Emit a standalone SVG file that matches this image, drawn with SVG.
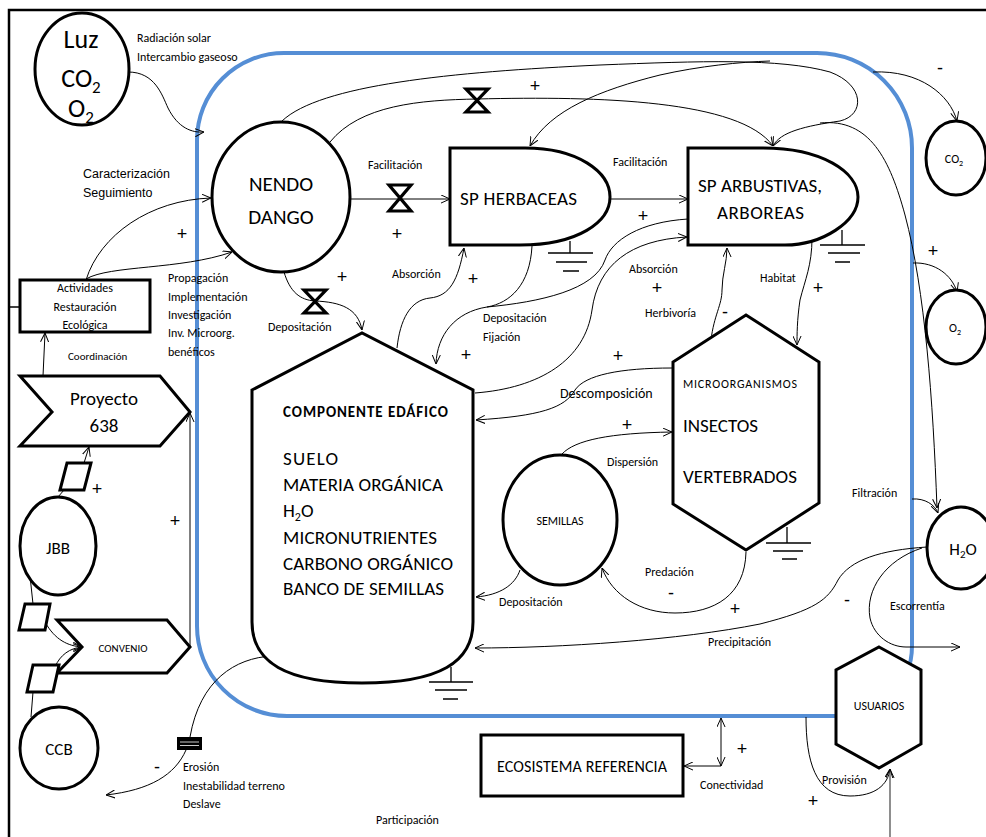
<svg xmlns="http://www.w3.org/2000/svg" width="986" height="837" viewBox="0 0 986 837">
<defs>
<marker id="a" viewBox="0 0 10 10" refX="10" refY="5" markerWidth="9" markerHeight="9" markerUnits="userSpaceOnUse" orient="auto-start-reverse"><path d="M0,0.5 L10,5 L0,9.5" fill="none" stroke="#000" stroke-width="1.1"/></marker>
<style>
.n{fill:#fff;stroke:#000;stroke-width:3}
.c{fill:none;stroke:#000;stroke-width:1}
.ca{fill:none;stroke:#000;stroke-width:1;marker-end:url(#a)}
.g{fill:none;stroke:#000;stroke-width:1.3}
.v{fill:none;stroke:#000;stroke-width:3.2;stroke-linejoin:miter}
text{font-family:Carlito,Lato,"Liberation Sans",sans-serif;fill:#000}
.s{font-size:12px}
.ar{font-family:"Liberation Sans",Arial,sans-serif;font-size:12.5px}
.p{font-family:"Liberation Sans",Arial,sans-serif;font-size:18px;text-anchor:middle}
.m{text-anchor:middle}
</style>
</defs>
<rect width="986" height="837" fill="#fff"/>
<path d="M9,837 V10 H986" fill="none" stroke="#000" stroke-width="2.5"/>
<path d="M9,307 H20" fill="none" stroke="#000" stroke-width="1.5"/>
<path d="M284,53 H817 A95,95 0 0 1 912,148 V646 A70,70 0 0 1 842,716 H287 A90,90 0 0 1 197,626 V140 A87,87 0 0 1 284,53 Z" fill="none" stroke="#558ED5" stroke-width="4"/>

<g id="connectors">
<path class="ca" d="M128,72 C155,72 162,95 168,108 C178,128 192,133 204,132"/>
<path class="ca" d="M86,280 C100,235 150,200 211,198"/>
<path class="ca" d="M86,279 C110,265 180,270 232,252"/>
<path class="ca" d="M43,376 L45,333"/>
<path class="ca" d="M190,647 V413"/>
<path class="c" d="M58,497 L64,490"/>
<path class="ca" d="M84,463 L89,447"/>
<path class="c" d="M30,576 L33,604"/>
<path class="ca" d="M45,622 C55,640 68,646 82,647"/>
<path class="ca" d="M55,667 C60,655 70,648 82,647"/>
<path class="c" d="M33,692 L31,717"/>
<path class="c" d="M272,656 C235,658 200,680 190,737"/>
<path class="ca" d="M186,750 C175,775 150,790 106,795"/>
<path class="ca" d="M350,199 H450"/>
<path class="ca" d="M610,199 H688"/>
<path class="ca" d="M282,121 C320,85 450,72 600,65 C700,61 780,58 830,72 C865,85 865,115 840,121 C805,126 780,132 773,146"/>
<path class="ca" d="M820,123 C870,118 890,160 905,215 C925,290 933,400 937,508"/>
<path class="ca" d="M330,142 C360,105 420,100 477,99 C600,96 740,100 773,146"/>
<path class="ca" d="M770,61 C740,62 700,66 660,75 C600,90 550,110 530,146"/>
<path class="ca" d="M873,72 C920,70 950,95 957,121"/>
<path class="ca" d="M913,263 C935,262 952,275 957,292"/>
<path class="ca" d="M912,499 C925,498 935,505 938,513"/>
<path class="ca" d="M284,272 C290,292 300,300 315,301 C340,302 358,308 362,330"/>
<path class="ca" d="M397,348 C400,320 410,300 430,298 C450,296 458,280 464,248"/>
<path class="ca" d="M532,246 C530,285 510,303 487,307 C455,312 437,335 436,364"/>
<path class="c" d="M688,219 C640,222 612,240 605,260 C595,290 540,302 487,307"/>
<path class="ca" d="M475,393 C540,388 585,360 592,310 C598,265 630,240 687,237"/>
<path class="ca" d="M711,340 C714,315 722,305 722,290 C722,275 727,262 727,248"/>
<path class="ca" d="M812,238 C812,265 805,280 800,300 C797,320 797,335 797,345"/>
<path class="ca" d="M672,368 C620,368 585,375 575,390 C565,408 540,416 476,420"/>
<path class="ca" d="M562,454 C575,440 610,433 672,432"/>
<path class="ca" d="M520,570 C515,585 500,595 476,597"/>
<path class="ca" d="M746,552 C745,595 715,613 675,613 C640,613 612,595 602,568"/>
<path class="ca" d="M927,547 C880,550 850,560 838,580 C828,600 815,610 760,624 C680,640 560,648 475,648"/>
<path class="ca" d="M922,548 C885,560 865,590 870,618 C874,636 890,647 906,647 L960,647"/>
<path class="ca" d="M806,717 C806,760 815,796 850,796 C875,796 888,785 890,769"/>
<path d="M890,837 V769" fill="none" stroke="#444" stroke-width="1.2" marker-end="url(#a)"/>
<path class="ca" d="M721,766 V718" marker-start="url(#a)"/>
<path class="ca" d="M721,766 H684"/>
<path class="v" d="M389,185 H411 L389,211 H411 Z"/>
<path class="v" d="M466,89 H488 L466,112 H488 Z"/>
<path class="v" d="M304,290 H326 L304,313 H326 Z"/>
<rect x="177" y="737" width="25" height="13" fill="#000"/>
<path d="M180,742 H199 M180,745.5 H199" stroke="#fff" stroke-width="0.8"/>
</g>

<g id="luz">
<ellipse class="n" cx="82" cy="69" rx="47" ry="56"/>
<text x="81" y="48" font-size="26" class="m">Luz</text>
<text x="81" y="87" font-size="26" class="m">CO<tspan font-size="17" dy="6">2</tspan></text>
<text x="81" y="117" font-size="26" class="m">O<tspan font-size="17" dy="6">2</tspan></text>
</g>
<g id="nendo">
<ellipse class="n" cx="281" cy="197" rx="69" ry="75"/>
<text x="281" y="191" font-size="21" class="m">NENDO</text>
<text x="281" y="224" font-size="21" class="m">DANGO</text>
</g>
<g id="herbaceas">
<path class="n" d="M450,148 H525 C578,148 610,172 610,197 C610,222 578,245 520,245 H450 Z"/>
<text x="460" y="205" font-size="19" textLength="117">SP HERBACEAS</text>
<path class="g" d="M570,241 V253 M548,253 H593 M556,262 H587 M563,271 H579"/>
</g>
<g id="arbustivas">
<path class="n" d="M688,148 H763 C822,148 858,172 858,197 C858,222 822,245 785,245 H688 Z"/>
<text x="698" y="192" font-size="19" textLength="124">SP ARBUSTIVAS,</text>
<text x="717" y="219" font-size="19" textLength="87">ARBOREAS</text>
<path class="g" d="M842,230 V245 M820,245 H865 M828,253 H860 M835,262 H850"/>
</g>
<g id="co2">
<ellipse class="n" cx="956" cy="158" rx="30" ry="37"/>
<text x="954" y="163" font-size="12" class="m">CO<tspan font-size="8" dy="3">2</tspan></text>
</g>
<g id="o2">
<ellipse class="n" cx="956" cy="327" rx="30" ry="37"/>
<text x="955" y="332" font-size="12" class="m">O<tspan font-size="8" dy="3">2</tspan></text>
</g>
<g id="h2o">
<ellipse class="n" cx="961" cy="548" rx="34" ry="41"/>
<text x="963" y="555" font-size="17" class="m">H<tspan font-size="11" dy="3">2</tspan><tspan dy="-3">O</tspan></text>
</g>
<g id="componente">
<path class="n" d="M252,390 L362,333 L473,390 V622 C473,662 440,683 362,683 C285,683 252,662 252,622 Z"/>
<text x="283" y="417" font-size="15" font-weight="bold" textLength="165">COMPONENTE EDÁFICO</text>
<text x="283" y="465" font-size="19" textLength="55">SUELO</text>
<text x="283" y="491" font-size="19" textLength="160">MATERIA ORGÁNICA</text>
<text x="283" y="517" font-size="19">H<tspan font-size="12" dy="4">2</tspan><tspan dy="-4">O</tspan></text>
<text x="283" y="544" font-size="19" textLength="154">MICRONUTRIENTES</text>
<text x="283" y="570" font-size="19" textLength="170">CARBONO ORGÁNICO</text>
<text x="283" y="595" font-size="19" textLength="161">BANCO DE SEMILLAS</text>
<path class="g" d="M451,667 V682 M429,682 H473 M435,690 H467 M443,699 H458"/>
</g>
<g id="micro">
<path class="n" d="M746,315 L819,362 V503 L746,550 L673,504 V362 Z"/>
<text x="683" y="388" font-size="12" textLength="114">MICROORGANISMOS</text>
<text x="683" y="432" font-size="19" textLength="75">INSECTOS</text>
<text x="683" y="483" font-size="19" textLength="114">VERTEBRADOS</text>
<path class="g" d="M787,527 V543 M766,543 H811 M773,551 H803 M782,559 H797"/>
</g>
<g id="semillas">
<ellipse class="n" cx="560" cy="520" rx="57" ry="65"/>
<text x="560" y="525" font-size="12" class="m">SEMILLAS</text>
</g>
<g id="usuarios">
<path class="n" d="M879,647 L921,670 V744 L879,768 L836,744 V670 Z"/>
<text x="879" y="710" font-size="12" class="m">USUARIOS</text>
</g>
<g id="ecosistema">
<rect class="n" x="481" y="735" width="202" height="61"/>
<text x="582" y="772" font-size="16" class="m" textLength="170">ECOSISTEMA REFERENCIA</text>
</g>
<g id="actividades">
<rect class="n" x="20" y="280" width="130" height="52"/>
<text x="85" y="292" class="s m">Actividades</text>
<text x="85" y="311" class="s m">Restauración</text>
<text x="85" y="329" class="s m">Ecológica</text>
</g>
<g id="proyecto">
<path class="n" d="M20,376 H160 L190,412 L160,446 H20 L52,412 Z"/>
<text x="104" y="405" font-size="19" class="m">Proyecto</text>
<text x="104" y="432" font-size="19" class="m">638</text>
</g>
<g id="jbb">
<ellipse class="n" cx="58" cy="546" rx="38" ry="49"/>
<text x="58" y="554" font-size="17" class="m">JBB</text>
</g>
<g id="convenio">
<path class="n" d="M57,620 H167 L190,647 L167,673 H57 L82,647 Z"/>
<text x="123" y="652" font-size="11" class="m">CONVENIO</text>
</g>
<g id="ccb">
<ellipse class="n" cx="59" cy="748" rx="39" ry="41"/>
<text x="59" y="755" font-size="17" class="m">CCB</text>
</g>
<g id="paralelogramos">
<path class="n" d="M60,490 L67,463 H91 L84,490 Z"/>
<path class="n" d="M19,630 L25,604 H50 L45,630 Z"/>
<path class="n" d="M27,692 L33,665 H59 L53,692 Z"/>
</g>

<g id="labels">
<text x="137" y="42" class="s">Radiación solar</text>
<text x="137" y="61" class="s">Intercambio gaseoso</text>
<text x="83" y="178" class="ar">Caracterización</text>
<text x="83" y="197" class="ar">Seguimiento</text>
<text x="68" y="360" font-size="11">Coordinación</text>
<text x="168" y="282" class="s">Propagación</text>
<text x="168" y="301" class="s">Implementación</text>
<text x="168" y="319" class="s">Investigación</text>
<text x="168" y="337" class="s">Inv. Microorg.</text>
<text x="168" y="356" class="s">benéficos</text>
<text x="268" y="331" class="s">Depositación</text>
<text x="368" y="169" class="s">Facilitación</text>
<text x="613" y="166" class="s">Facilitación</text>
<text x="392" y="278" class="s">Absorción</text>
<text x="483" y="322" class="s">Depositación</text>
<text x="483" y="341" class="s">Fijación</text>
<text x="629" y="273" class="s">Absorción</text>
<text x="645" y="317" class="s">Herbivoría</text>
<text x="760" y="282" class="s">Habitat</text>
<text x="560" y="398" font-size="14">Descomposición</text>
<text x="607" y="466" class="s">Dispersión</text>
<text x="499" y="606" class="s">Depositación</text>
<text x="645" y="576" class="s">Predación</text>
<text x="852" y="497" class="s">Filtración</text>
<text x="890" y="610" class="s">Escorrentía</text>
<text x="708" y="646" class="s">Precipitación</text>
<text x="700" y="789" class="s">Conectividad</text>
<text x="822" y="784" class="s">Provisión</text>
<text x="376" y="824" class="s">Participación</text>
<text x="183" y="771" class="s">Erosión</text>
<text x="183" y="790" class="s">Inestabilidad terreno</text>
<text x="183" y="808" class="s">Deslave</text>
</g>
<g id="signs">
<text x="182" y="240" class="p">+</text>
<text x="342" y="283" class="p">+</text>
<text x="397" y="240" class="p">+</text>
<text x="473" y="285" class="p">+</text>
<text x="466" y="361" class="p">+</text>
<text x="535" y="92" class="p">+</text>
<text x="643" y="222" class="p">+</text>
<text x="657" y="294" class="p">+</text>
<text x="618" y="362" class="p">+</text>
<text x="627" y="431" class="p">+</text>
<text x="818" y="294" class="p">+</text>
<text x="725" y="318" class="p">-</text>
<text x="940" y="74" class="p">-</text>
<text x="933" y="257" class="p">+</text>
<text x="671" y="599" class="p">-</text>
<text x="735" y="615" class="p">+</text>
<text x="847" y="606" class="p">-</text>
<text x="742" y="755" class="p">+</text>
<text x="813" y="807" class="p">+</text>
<text x="157" y="773" class="p">-</text>
<text x="175" y="527" class="p">+</text>
<text x="97" y="495" class="p">+</text>
</g>
</svg>
